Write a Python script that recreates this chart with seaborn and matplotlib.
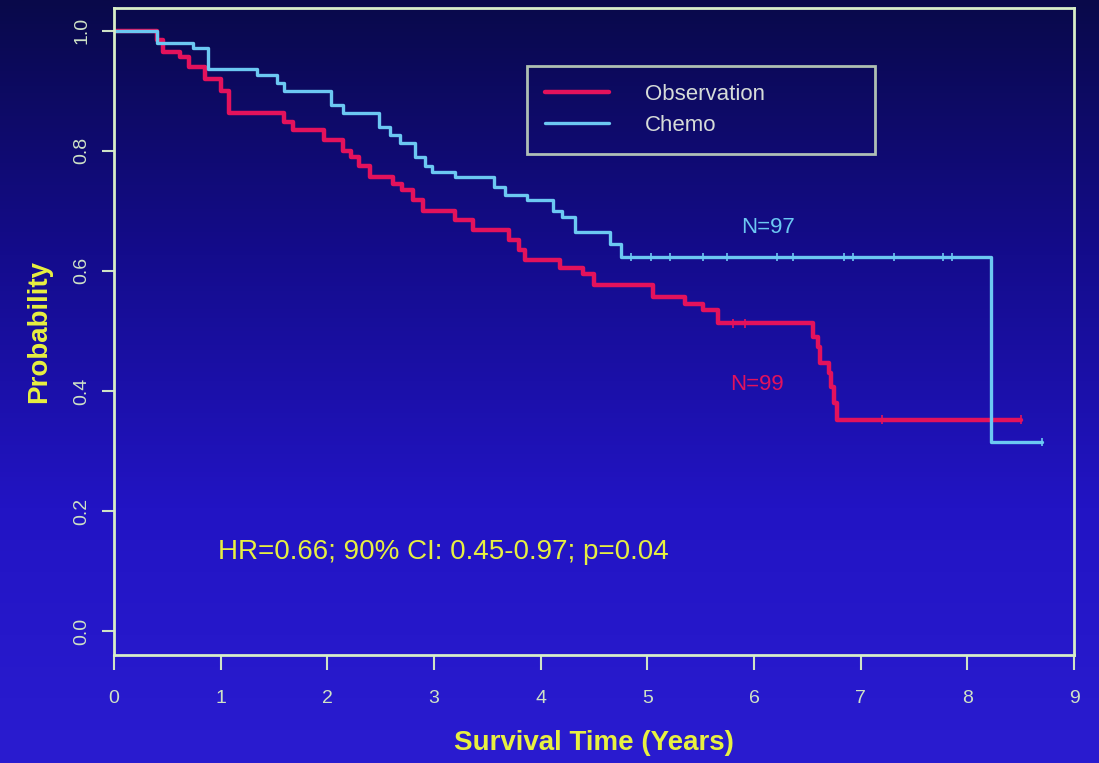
"""Kaplan-Meier style survival plot: Observation vs Chemo, slide look."""

import numpy as np
import pandas as pd
import matplotlib
matplotlib.use("Agg")
import matplotlib.pyplot as plt
import seaborn as sns
from matplotlib.colors import LinearSegmentedColormap

# step points: time (years) and survival just after that time
chemo_t = [0.0, 0.40, 0.74, 0.88, 1.34, 1.53, 1.59, 2.03, 2.15, 2.48, 2.59, 2.68,
           2.82, 2.92, 2.98, 3.20, 3.56, 3.67, 3.87, 4.12, 4.20, 4.32, 4.65, 4.75,
           8.22, 8.70]
chemo_s = [1.0, 0.980, 0.972, 0.937, 0.927, 0.913, 0.900, 0.877, 0.863, 0.840, 0.827,
           0.813, 0.790, 0.775, 0.765, 0.757, 0.740, 0.727, 0.718, 0.700, 0.690,
           0.665, 0.645, 0.623, 0.315, 0.315]

obs_t = [0.0, 0.40, 0.46, 0.62, 0.70, 0.85, 1.00, 1.08, 1.59, 1.68, 1.97, 2.15,
         2.22, 2.30, 2.40, 2.62, 2.70, 2.80, 2.90, 3.20, 3.37, 3.70, 3.80, 3.85,
         4.18, 4.40, 4.50, 5.05, 5.35, 5.52, 5.66, 6.55, 6.60, 6.62, 6.70, 6.72,
         6.75, 6.78, 8.50]
obs_s = [1.0, 0.985, 0.965, 0.957, 0.940, 0.920, 0.900, 0.863, 0.848, 0.835, 0.818,
         0.800, 0.790, 0.775, 0.757, 0.745, 0.735, 0.718, 0.700, 0.685, 0.668,
         0.652, 0.635, 0.618, 0.605, 0.595, 0.577, 0.557, 0.545, 0.535, 0.513,
         0.490, 0.473, 0.447, 0.430, 0.407, 0.380, 0.352, 0.352]

# censoring marks
chemo_cens = [4.85, 5.03, 5.21, 5.52, 5.75, 6.22, 6.37, 6.84, 6.93, 7.31, 7.77, 7.86, 8.70]
obs_cens = [5.80, 5.92, 7.20, 8.50]

x_ticks = [0, 1, 2, 3, 4, 5, 6, 7, 8, 9]
y_ticks = [0.0, 0.2, 0.4, 0.6, 0.8, 1.0]

RED = "#e3125c"
CYAN = "#6cc8f2"
YELLOW = "#e8f040"
PALE = "#cfe2c6"
SPINE = "#d8eec8"


def step_at(ts, ss, x):
    idx = np.searchsorted(ts, x, side="right") - 1
    return [ss[i] for i in idx]


curves = pd.concat([
    pd.DataFrame({"time": obs_t, "surv": obs_s, "arm": "Observation"}),
    pd.DataFrame({"time": chemo_t, "surv": chemo_s, "arm": "Chemo"}),
])
cens = pd.concat([
    pd.DataFrame({"time": obs_cens, "surv": step_at(obs_t, obs_s, obs_cens), "arm": "Observation"}),
    pd.DataFrame({"time": chemo_cens, "surv": step_at(chemo_t, chemo_s, chemo_cens), "arm": "Chemo"}),
])

sns.set_style("ticks")
plt.rcParams["font.family"] = ["Liberation Sans", "DejaVu Sans"]

fig = plt.figure(figsize=(10.99, 7.63), dpi=100)

# slide background gradient
bg = fig.add_axes([0, 0, 1, 1])
cmap = LinearSegmentedColormap.from_list(
    "slide", ["#09094a", "#140c8c", "#2214c4", "#2a1cd0"])
grad = np.linspace(0, 1, 256).reshape(-1, 1)
bg.imshow(grad, aspect="auto", cmap=cmap, extent=[0, 1, 0, 1], origin="upper")
bg.axis("off")

ax = fig.add_axes([0.1037, 0.1415, 0.8736, 0.848])
ax.patch.set_alpha(0)

sns.lineplot(data=curves[curves["arm"] == "Observation"], x="time", y="surv",
             color=RED, linewidth=3.2, drawstyle="steps-post", estimator=None,
             label="Observation", ax=ax)
sns.lineplot(data=curves[curves["arm"] == "Chemo"], x="time", y="surv",
             color=CYAN, linewidth=2.4, drawstyle="steps-post", estimator=None,
             label="Chemo", ax=ax)
sns.scatterplot(data=cens, x="time", y="surv", hue="arm",
                palette={"Observation": RED, "Chemo": CYAN},
                marker="|", s=40, linewidth=1.2, legend=False, ax=ax)

ax.set_xlim(0, 9)
ax.set_ylim(-0.04, 1.038)
ax.set_xticks(x_ticks)
ax.set_yticks(y_ticks)
ax.set_xticklabels([str(v) for v in x_ticks])
ax.set_yticklabels([f"{v:.1f}" for v in y_ticks])

for side in ["left", "right", "top", "bottom"]:
    ax.spines[side].set_visible(True)
    ax.spines[side].set_color(SPINE)
    ax.spines[side].set_linewidth(2)
ax.tick_params(axis="x", colors=PALE, length=11, width=1.5, pad=14, labelsize=14)
ax.tick_params(axis="y", colors=PALE, length=9, width=1.5, pad=8, labelsize=14,
               labelrotation=90)
for lbl in ax.get_yticklabels():
    lbl.set_va("center")

ax.set_xlabel("Survival Time (Years)", color=YELLOW, fontsize=20,
              fontweight="bold", labelpad=17)
ax.set_ylabel("Probability", color=YELLOW, fontsize=20, fontweight="bold",
              labelpad=15)

ax.text(6.13, 0.672, "N=97", color=CYAN, fontsize=16, ha="center", va="center")
ax.text(6.03, 0.41, "N=99", color=RED, fontsize=16, ha="center", va="center")
ax.text(3.09, 0.132, "HR=0.66; 90% CI: 0.45-0.97; p=0.04", color=YELLOW,
        fontsize=20, ha="center", va="center")

handles, labels = ax.get_legend_handles_labels()
leg = ax.legend(handles, labels, loc="upper left", bbox_to_anchor=(0.43, 0.762, 0.363, 0.148),
                mode="expand", frameon=True, fancybox=False, fontsize=16,
                handlelength=2.9, handletextpad=1.6, borderpad=0.8, labelspacing=0.45,
                borderaxespad=0)
frame = leg.get_frame()
frame.set_facecolor("none")
frame.set_edgecolor(SPINE)
frame.set_linewidth(2)
for txt in leg.get_texts():
    txt.set_color("#d6dcd8")

fig.savefig("out.png", dpi=100)
